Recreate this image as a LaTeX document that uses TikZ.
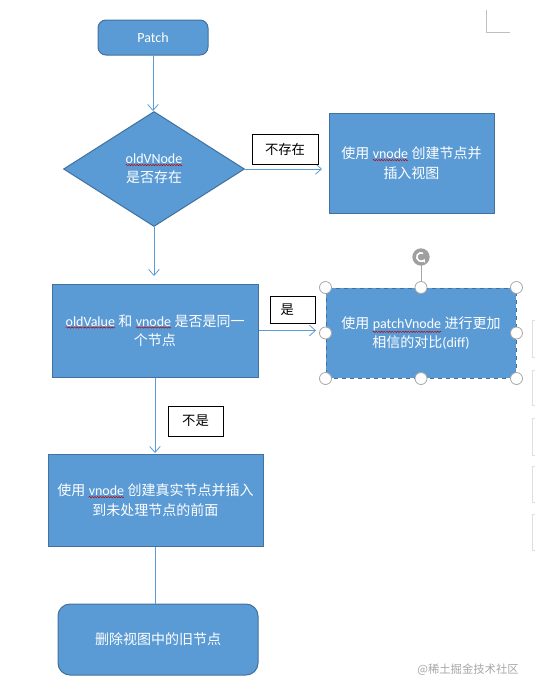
\documentclass[tikz,border=0pt]{standalone}
\usepackage{fontspec}
\setmainfont{Carlito}
\newfontfamily\cjk{Noto Sans CJK SC}
\usetikzlibrary{shapes.geometric,arrows.meta,decorations.pathmorphing}
\definecolor{boxfill}{HTML}{5B9BD5}
\definecolor{boxdraw}{HTML}{41719C}
\definecolor{linec}{HTML}{5B9BD5}
\newcommand\sq[1]{\tikz[baseline=(sqt.base),x=1pt,y=1pt]{\node[shape=rectangle,draw=none,fill=none,minimum width=0pt,minimum height=0pt,inner sep=0pt,outer sep=0pt,text=white,solid,rounded corners=0pt](sqt){#1};\draw[red!75!black,line width=0.35pt,solid,decorate,decoration={snake,amplitude=0.5pt,segment length=2pt}] ([yshift=-1pt]sqt.south west)--([yshift=-1pt]sqt.south east);}}
\tikzset{
  flowbox/.style={draw=boxdraw, fill=boxfill, line width=0.75pt, text=white, align=center, inner sep=0pt, font=\fontsize{10.5}{14.5}\selectfont},
  roundbox/.style={flowbox, rounded corners=6pt},
  lab/.style={draw=black, fill=white, line width=0.75pt, text=black, inner sep=0pt, font=\cjk\fontsize{10}{12}\selectfont},
  conn/.style={draw=linec, line width=0.75pt},
  arr/.style={conn, -{Straight Barb[length=4.5pt,width=8pt,line width=0.6pt]}},
  handle/.style={circle, draw=gray!70, fill=white, line width=0.6pt, solid, minimum size=9pt, inner sep=0pt}
}
\begin{document}
\begin{tikzpicture}[x=0.75pt,y=-0.75pt]
\useasboundingbox (0,0) rectangle (535,694);
% corner mark
\draw[gray!50, line width=0.5pt] (486,10) -- (486,32) -- (510,32);
% right-edge partial boxes
\foreach \ya/\yb in {320/357,370/405,418/455,466/502,514/550}
  \draw[gray!25, line width=0.5pt] (535,\ya) -- (532,\ya) -- (532,\yb) -- (535,\yb);

\node[roundbox, minimum width=82.5pt, minimum height=26.25pt] (patch) at (153,37.5) {Patch};
\node[flowbox, diamond, minimum width=135.75pt, minimum height=86.25pt] (dia) at (154,169) {\sq{oldVNode}\\{\cjk 是否存在}};
\node[flowbox, minimum width=123.75pt, minimum height=75pt] (b1) at (411.5,163) {{\cjk 使用} \sq{vnode} {\cjk 创建节点并}\\{\cjk 插入视图}};
\node[flowbox, minimum width=154.5pt, minimum height=69.75pt] (b2) at (155,330.5) {\sq{oldValue} {\cjk 和} \sq{vnode} {\cjk 是否是同一}\\{\cjk 个节点}};
\node[flowbox, dashed, minimum width=142.5pt, minimum height=67.5pt] (b3) at (421,333) {{\cjk 使用} \sq{patchVnode} {\cjk 进行更加}\\{\cjk 相信的对比}(diff)};
\node[flowbox, minimum width=161.25pt, minimum height=69pt] (b4) at (155.5,500) {{\cjk 使用} \sq{vnode} {\cjk 创建真实节点并插入}\\{\cjk 到未处理节点的前面}};
\node[roundbox, rounded corners=9pt, minimum width=150pt, minimum height=53.25pt] (b5) at (158,639.5) {{\cjk 删除视图中的旧节点}};

% connectors
\draw[arr] (patch.south) -- (patch.south |- dia.north);
\coordinate (b1x) at (322,0);
\draw[arr] (dia.east) -- (dia.east -| b1x);
\coordinate (b2top) at (154,276);
\draw[arr] (dia.south) -- (b2top);
\coordinate (b3x) at (316,0);
\draw[arr] (b2.east) -- (b2.east -| b3x);
\coordinate (b4top) at (155,453);
\draw[arr] (b2.south -| b4top) -- (b4top);
\draw[conn] (b4.south -| b4top) -- (b5.north -| b4top);

% labels
\node[lab, minimum width=49.5pt, minimum height=22.5pt] (l1) at (285,149) {不存在};
\node[lab, minimum width=33.75pt, minimum height=20.25pt, text width=33.75pt, align=left] (l2) at (292.5,309.5) {\hspace*{8pt}是};
\node[lab, minimum width=41.25pt, minimum height=22.5pt] (l3) at (195.5,421) {不是};

% selection handles on b3
\foreach \a in {north west,north,north east,east,south east,south,south west,west}
  \node[handle] at (b3.\a) {};
\coordinate (rot) at (421,257);
\draw[gray!70, line width=0.75pt] (rot) -- ([yshift=4.5pt]b3.north);
\node[circle, fill=gray!75, minimum size=13pt, inner sep=0pt] (rotc) at (rot) {};
\draw[white, line width=1.2pt, -{Stealth[length=2.5pt,width=3.5pt]}] ([shift={(60:3.2pt)}]rotc.center) arc[start angle=60, end angle=330, radius=3.2pt];

% watermark
\node[text=gray!70, font=\cjk\fontsize{8.5}{10}\selectfont, inner sep=0pt] (wm) at (468,670) {@稀土掘金技术社区};
\end{tikzpicture}
\end{document}
